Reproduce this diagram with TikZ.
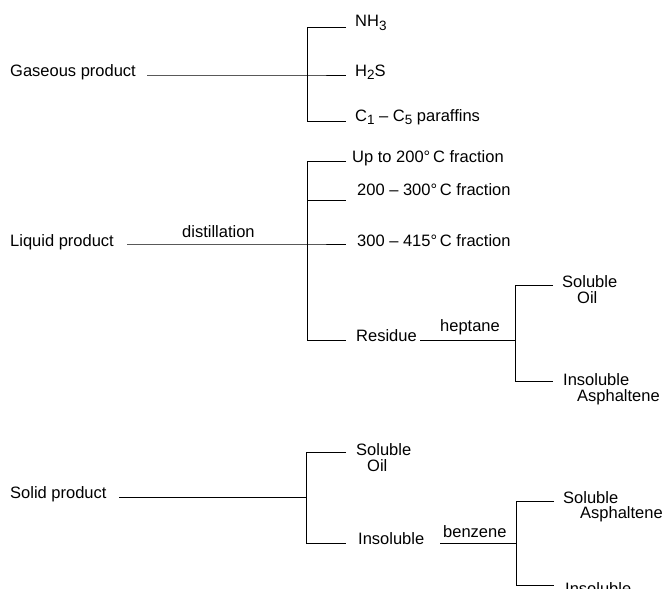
\documentclass[tikz,border=0pt]{standalone}
\usepackage{fontspec}
\setmainfont{Liberation Sans}
\newcommand{\lblfont}{\fontsize{16.5}{16.5}\selectfont}
\newcommand{\sbs}[1]{\raisebox{-0.4ex}{\fontsize{13.5}{13.5}\selectfont #1}}
\begin{document}
\begin{tikzpicture}[x=1pt,y=-1pt,
  lab/.style={anchor=base west, inner sep=0pt, font=\lblfont},
  ln/.style={line width=0.8pt}]
\useasboundingbox (0,0) rectangle (665,589);
\clip (0,0) rectangle (665,589);
% ---------- Gaseous ----------
\node[lab] (gas) at (10,76) {Gaseous product};
\node[lab] (nh3) at (355,27) {NH\sbs{3}};
\node[lab] (h2s) at (355,76) {H\sbs{2}S};
\node[lab] (cpar) at (355,121) {C\sbs{1} -- C\sbs{5} paraffins};
\coordinate (gs) at (147,75);
\coordinate (jg) at (307,75);
\coordinate (jg1) at (307,27);
\coordinate (jg3) at (307,121);
\coordinate (eg1) at (346,27);
\coordinate (eg2) at (346,75);
\coordinate (eg3) at (346,121);
\draw[ln] (gs) -- (jg) -- (eg2);
\draw[ln] (eg1) -- (jg1) -- (jg3) -- (eg3);
% ---------- Liquid ----------
\node[lab] (liq) at (10,246) {Liquid product};
\node[lab] (dist) at (182,237) {distillation};
\node[lab] (f1) at (352,162) {Up to 200°\,C fraction};
\node[lab] (f2) at (357,195) {200 -- 300°\,C fraction};
\node[lab] (f3) at (357,246) {300 -- 415°\,C fraction};
\node[lab] (res) at (356,341) {Residue};
\node[lab] (hep) at (440,331) {heptane};
\coordinate (ls) at (127,244);
\coordinate (jl) at (307,244);
\coordinate (jl1) at (307,161);
\coordinate (jl2) at (307,200);
\coordinate (jl4) at (307,340);
\coordinate (el1) at (346,161);
\coordinate (el2) at (346,200);
\coordinate (el3) at (346,244);
\coordinate (el4) at (346,340);
\draw[ln] (ls) -- (jl) -- (el3);
\draw[ln] (el1) -- (jl1) -- (jl4) -- (el4);
\draw[ln] (jl2) -- (el2);
\node[lab] (solA) at (562,287) {Soluble};
\node[lab] (solB) at (577,303) {Oil};
\node[lab] (insA) at (563,385) {Insoluble};
\node[lab] (insB) at (577,401) {Asphaltene};
\coordinate (rs) at (420,340);
\coordinate (jr) at (515,340);
\coordinate (jr1) at (515,285);
\coordinate (jr2) at (515,381);
\coordinate (er1) at (553,285);
\coordinate (er2) at (553,381);
\draw[ln] (rs) -- (jr);
\draw[ln] (er1) -- (jr1) -- (jr2) -- (er2);
% ---------- Solid ----------
\node[lab] (sol) at (10,498) {Solid product};
\node[lab] (ssA) at (356,455) {Soluble};
\node[lab] (ssB) at (367,471) {Oil};
\node[lab] (sins) at (358,544) {Insoluble};
\node[lab] (benz) at (443,537) {benzene};
\coordinate (ss) at (119,497);
\coordinate (js) at (306,497);
\coordinate (js1) at (306,452);
\coordinate (js2) at (306,543);
\coordinate (es1) at (346,452);
\coordinate (es2) at (346,543);
\draw[ln] (ss) -- (js);
\draw[ln] (es1) -- (js1) -- (js2) -- (es2);
\node[lab] (bsA) at (563,503) {Soluble};
\node[lab] (bsB) at (580,518) {Asphaltene};
\node[lab] (bins) at (565,594) {Insoluble};
\coordinate (bs) at (440,543);
\coordinate (jb) at (516,543);
\coordinate (jb1) at (516,501);
\coordinate (jb2) at (516,585);
\coordinate (eb1) at (554,501);
\coordinate (eb2) at (554,585);
\draw[ln] (bs) -- (jb);
\draw[ln] (eb1) -- (jb1) -- (jb2) -- (eb2);
\end{tikzpicture}
\end{document}
